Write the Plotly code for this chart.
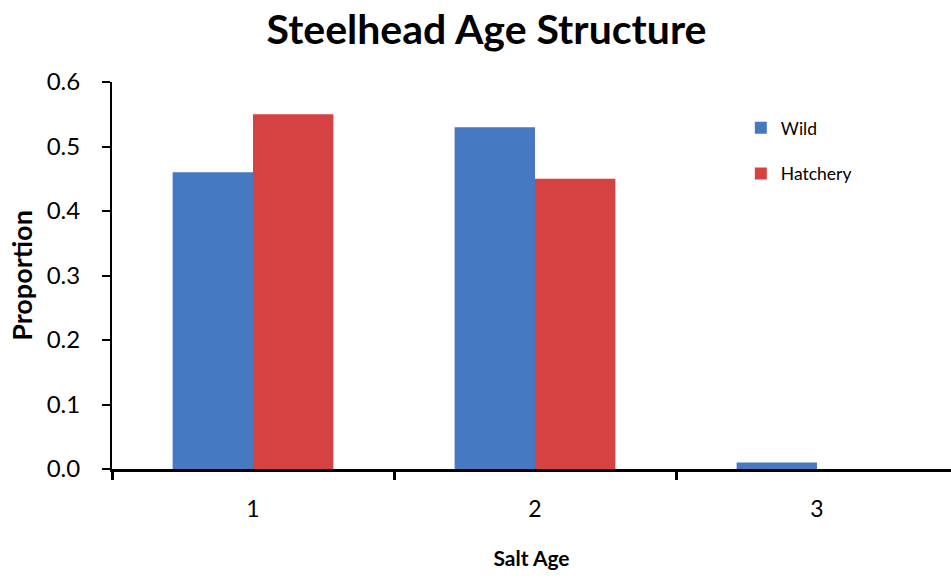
import plotly.graph_objects as go

categories = [1, 2, 3]
tick_labels = ["1", "2", "3"]
wild = [0.46, 0.53, 0.01]
hatchery = [0.55, 0.45, 0.0]

FONT = "Lato, 'Open Sans', sans-serif"

fig = go.Figure()
fig.add_trace(go.Bar(
    x=categories, y=wild, name="Wild", legendgroup="w",
    marker=dict(color="#4679c2", line=dict(width=0)),
))
fig.add_trace(go.Bar(
    x=categories, y=hatchery, name="Hatchery", legendgroup="h",
    marker=dict(color="#d64141", line=dict(width=0)),
))

fig.update_layout(
    width=951, height=579,
    margin=dict(l=112, r=0, t=82, b=110),
    paper_bgcolor="white", plot_bgcolor="white",
    font=dict(family=FONT, color="black"),
    title=dict(text="<b>Steelhead Age Structure</b>", x=0.5116, xanchor="center",
               xref="container", y=0.948, yanchor="middle", font=dict(size=41, family=FONT)),
    barmode="group", bargap=0.43, bargroupgap=0,
    showlegend=True,
    legend=dict(x=0.7495, y=0.822, xanchor="left", yanchor="middle",
                font=dict(size=17.5, family=FONT), tracegroupgap=20,
                traceorder="grouped", itemwidth=30, bgcolor="rgba(0,0,0,0)"),
    xaxis=dict(
        range=[0.5, 0.5 + (951 - 112) / 282.0],
        tickvals=categories, ticktext=tick_labels, ticks="", ticklen=0,
        tickfont=dict(size=23), ticklabelstandoff=18,
        showline=True, linecolor="black", linewidth=2.5,
        showgrid=False, zeroline=False,
        minor=dict(tickvals=[0.5, 1.5, 2.5], ticks="outside", ticklen=8,
                   tickwidth=2.5, tickcolor="black", showgrid=False),
        title=dict(text="<b>Salt Age</b>", font=dict(size=21), standoff=30),
    ),
    yaxis=dict(
        range=[0, 0.6], dtick=0.1, tickformat=".1f",
        ticks="outside", ticklen=8, tickwidth=2, tickcolor="black",
        tickfont=dict(size=24), ticklabelstandoff=17,
        showline=True, linecolor="black", linewidth=2,
        showgrid=False, zeroline=False,
        title=dict(text="<b>Proportion</b>", font=dict(size=27), standoff=6),
    ),
)

fig.write_html("out.html", config={"displayModeBar": False},
               post_script="document.body.style.margin='0';")
